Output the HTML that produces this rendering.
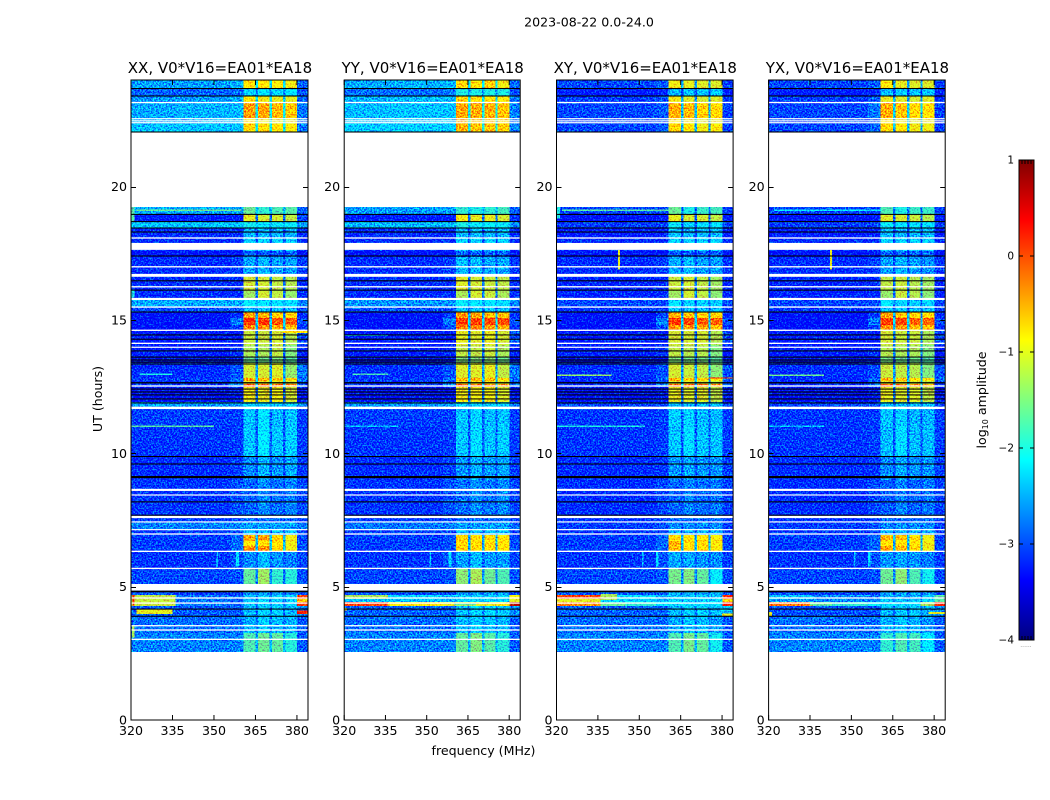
<!DOCTYPE html>
<html lang="en">
<head>
<meta charset="utf-8">
<title>2023-08-22 0.0-24.0</title>
<style>
html,body{margin:0;padding:0;background:#fff;}
svg{display:block;font-family:"DejaVu Sans","Liberation Sans",sans-serif;fill:#000;}
</style>
</head>
<body>
<svg id="figure" xmlns="http://www.w3.org/2000/svg" width="1050" height="800" viewBox="0 0 1050 800">
  <defs>
    <filter id="grain" filterUnits="userSpaceOnUse" x="120" y="70" width="840" height="660" color-interpolation-filters="sRGB">
      <feTurbulence type="fractalNoise" baseFrequency="0.62" numOctaves="2" seed="7" result="t"/>
      <feColorMatrix in="t" type="matrix" values="0 0 0 0 0.5  2.4 0 0 0 -0.7  0 0 0 0 0.5  0 0 0 0 1" result="n"/>
      <feComposite in="SourceGraphic" in2="n" operator="arithmetic" k1="0" k2="1" k3="0.9" k4="-0.45" result="m"/>
      <feComposite in="m" in2="SourceGraphic" operator="in"/>
    </filter>
    <linearGradient id="jetGradient" x1="0" y1="1" x2="0" y2="0"></linearGradient>
  </defs>
  <rect width="1050" height="800" fill="#fff"/>
  <text x="589" y="26.5" font-size="12.6" text-anchor="middle">2023-08-22 0.0-24.0</text>
  <text x="483.5" y="755" font-size="12.6" text-anchor="middle">frequency (MHz)</text>
  <text transform="translate(102,399) rotate(-90)" font-size="12.6" text-anchor="middle">UT (hours)</text>
  <g id="panels"></g>
  <g id="colorbar"></g>
  <text transform="translate(986,400) rotate(-90)" font-size="12.6" text-anchor="middle">log<tspan font-size="8" dy="2">10</tspan><tspan dy="-2"> amplitude</tspan></text>
</svg>
<script>
// ---- categories and tick labels ----
const polarisations = ["XX", "YY", "XY", "YX"];
const baselineLabel = "V0*V16=EA01*EA18";
const freqTicks = [320, 335, 350, 365, 380];
const hourTicks = [0, 5, 10, 15, 20];
const colorTicks = [-4, -3, -2, -1, 0, 1];

// ---- axis ranges ----
const freqRange = [320, 384];
const hourRange = [0, 24];
const colorRange = [-4, 1];

// ---- frequency channels, MHz (background + four receiver bands) ----
const channelStarts = [320, 336, 356, 360.6, 365.1, 366, 370.1, 371, 375, 375.8, 380.1];
const channelEnds   = [336, 356, 360.6, 365.1, 366, 370.1, 371, 375, 375.8, 380.1, 384];

// ---- time blocks, UT hours ----
const rowTop = [24,23.68,23.4,23.14,22.58,22.35,19.24,18.96,18.68,18.45,18.05,17.59,17.36,16.69,16.09,15.8,15.49,15.3,15.07,14.81,14.63,14.06,13.61,13.39,12.83,12.71,12.6,12.49,11.93,11.66,11.03,9.9,9,7.65,7.43,7.16,6.94,6.71,6.52,6.34,5.7,5.1,4.69,4.54,4.43,4.28,3.9,3.27];
const rowBottom = [23.68,23.4,23.14,22.58,22.35,22.05,18.96,18.68,18.45,18.05,17.59,17.36,16.69,16.09,15.8,15.49,15.3,15.07,14.81,14.63,14.06,13.61,13.39,12.83,12.71,12.6,12.49,11.93,11.66,11.03,9.9,9,7.65,7.43,7.16,6.94,6.71,6.52,6.34,5.7,5.1,4.69,4.54,4.43,4.28,3.9,3.27,2.55];

// ---- log10 amplitude per block: [320-336, 336-356, 356-360, band1, band2, band3, band4, 380-384] ----
const valuesXX = [
[-2.6,-2.6,-2.5,-.8,-.85,-.9,-.95,-2.9],[-2.9,-2.9,-2.85,-2.3,-2.2,-2.25,-2.2,-3],[-2.65,-2.6,-2.55,-.85,-.95,-1,-1,-2.9],[-2.55,-2.5,-2.45,-.4,-.45,-.55,-.65,-2.8],
[-2.5,-2.5,-2.4,-.85,-.95,-1,-1,-2.8],[-2.4,-2.4,-2.4,-.7,-.8,-.85,-.9,-2.8],[-2.5,-2.55,-2.6,-1.6,-1.9,-1.75,-1.7,-2.9],[-3.3,-3.3,-3.3,-1,-1.1,-1.1,-1.2,-3.1],
[-2.4,-2.4,-2.4,-2.05,-2.15,-2.1,-2.1,-2.6],[-3.2,-3.2,-3.2,-2.5,-2.5,-2.5,-2.5,-3.2],[-3.2,-3.2,-3.2,-2.3,-2.3,-2.3,-2.3,-3.2],[-3.4,-3.4,-3.4,-2.9,-2.9,-2.9,-2.9,-3.4],
[-3.2,-3.2,-3.1,-2.55,-2.5,-2.6,-2.6,-3.1],[-3.2,-3.2,-3.2,-1.1,-1.1,-1.2,-1.25,-3.2],[-3.2,-3.2,-3.2,-1.35,-1.1,-1.2,-1.4,-3.2],[-2.55,-2.55,-2.55,-2.1,-2.2,-2.2,-2.2,-2.7],
[-3,-3,-3,-2.4,-2.4,-2.4,-2.4,-3],[-3.4,-3.4,-3.2,-.4,-.5,-.7,-.7,-3.2],[-3.4,-3.4,-2.8,.2,.15,0,-.05,-3],[-3.4,-3.4,-3.1,-.3,-.3,-.5,-.6,-3.2],
[-3.3,-3.3,-3.3,-1.15,-1.15,-1.1,-1.25,-3],[-3.3,-3.3,-3.2,-1.3,-1.3,-1.2,-1.5,-3.3],[-3.5,-3.5,-3.4,-1.6,-1.6,-1.5,-1.7,-3.4],[-3.2,-3.2,-3,-1.1,-1.1,-1.05,-1.4,-2.8],
[-3.1,-3.1,-2.8,-.4,-.45,-.55,-.7,-2.8],[-3.2,-3.2,-2.9,-1,-1,-1,-1.1,-3],[-3.1,-3.1,-2.7,0,-.1,-.2,-.4,-2.8],[-3.4,-3.4,-3.3,-.95,-1,-.95,-1.1,-3.3],
[-2.6,-2.6,-2.6,-2.3,-2.3,-2.3,-2.3,-2.7],[-3.1,-3.1,-3.1,-2.4,-2.2,-2.45,-2.4,-3.1],[-3.15,-3.15,-3.1,-2.4,-2.15,-2.4,-2.35,-3.1],[-3.2,-3.2,-3.1,-2.7,-2.5,-2.65,-2.55,-3.1],
[-3.15,-3.15,-3,-2.9,-2.7,-2.85,-2.75,-3.05],[-3.1,-3.1,-3.05,-2.85,-2.85,-2.85,-2.85,-3.1],[-2.75,-2.75,-2.7,-2.6,-2.6,-2.6,-2.6,-2.8],[-3.1,-3.1,-3.05,-2.4,-2.4,-2.4,-2.4,-3.1],
[-3.1,-3.1,-2.9,-.45,-.45,-.7,-.95,-3.1],[-3.1,-3.1,-2.85,-.9,-.85,-.85,-.95,-3],[-3.1,-3.1,-2.85,-.3,-.35,-.7,-.95,-3],[-3.15,-3.15,-3,-2.7,-2.45,-2.65,-2.75,-3.05],
[-3.05,-3.05,-3,-1.65,-1.35,-1.9,-1.95,-3],[-3,-3.1,-3.1,-2.7,-2.6,-2.6,-2.7,-3],[-1.2,-2.8,-2.9,-2.4,-2.3,-2.3,-2.3,.1],[-1.15,-2.8,-2.9,-2.4,-2.3,-2.3,-2.3,-.6],
[-1.15,-2.8,-2.9,-2.4,-2.3,-2.3,-2.3,.15],[-2.95,-2.95,-2.95,-2.45,-2.3,-2.3,-2.45,-2.7],[-2.85,-2.85,-2.85,-2.5,-2.35,-2.45,-2.5,-2.95],[-2.75,-2.75,-2.75,-1.75,-1.6,-1.65,-1.95,-2.95]
];
const valuesYY = [
[-2.55,-2.5,-2.45,-.75,-.8,-.7,-.95,-2.85],[-2.85,-2.85,-2.8,-2,-2,-2,-2,-3],[-2.5,-2.45,-2.45,-.7,-.8,-.8,-.9,-2.8],[-2.45,-2.4,-2.4,-.45,-.5,-.5,-.6,-2.75],
[-2.4,-2.4,-2.35,-.55,-.65,-.65,-.75,-2.75],[-2.35,-2.35,-2.35,-.5,-.6,-.6,-.7,-2.75],[-2.6,-2.6,-2.6,-1.9,-2,-1.9,-1.8,-2.9],[-3.3,-3.3,-3.3,-.95,-1,-1,-1.1,-3.2],
[-2.45,-2.45,-2.45,-2,-2.1,-2.1,-2.1,-2.7],[-3.2,-3.2,-3.2,-2.45,-2.45,-2.45,-2.45,-3.2],[-3.2,-3.2,-3.2,-2.3,-2.3,-2.3,-2.3,-3.2],[-3.4,-3.4,-3.4,-2.9,-2.9,-2.9,-2.9,-3.4],
[-3.2,-3.2,-3.1,-2.45,-2.45,-2.55,-2.55,-3.1],[-3.2,-3.2,-3.2,-1.05,-1.1,-1.15,-1.2,-3.2],[-3.2,-3.2,-3.2,-1.3,-1.1,-1.15,-1.3,-3.2],[-2.65,-2.65,-2.65,-2.1,-2.2,-2.2,-2.2,-2.75],
[-3,-3,-3,-2.4,-2.4,-2.4,-2.4,-3],[-3.4,-3.4,-3.1,-.35,-.45,-.55,-.6,-3.2],[-3.4,-3.4,-2.8,.15,.1,.05,0,-3],[-3.4,-3.4,-3.05,-.25,-.25,-.4,-.45,-3.2],
[-3.3,-3.3,-3.3,-1,-1.05,-1,-1.1,-3],[-3.3,-3.3,-3.2,-1.2,-1.2,-1.15,-1.3,-3.3],[-3.5,-3.5,-3.4,-1.5,-1.5,-1.45,-1.6,-3.4],[-3.2,-3.2,-3,-1.05,-1.05,-1,-1.2,-2.8],
[-3.1,-3.1,-2.8,-.5,-.5,-.55,-.7,-2.8],[-3.2,-3.2,-2.9,-.95,-.95,-.95,-1.05,-3],[-3.1,-3.1,-2.7,-.1,-.15,-.2,-.3,-2.8],[-3.4,-3.4,-3.3,-.95,-.95,-.95,-1.05,-3.3],
[-2.65,-2.65,-2.65,-2.3,-2.3,-2.3,-2.3,-2.75],[-3.1,-3.1,-3.1,-2.4,-2.3,-2.45,-2.4,-3.1],[-3.15,-3.15,-3.1,-2.4,-2.25,-2.4,-2.35,-3.1],[-3.2,-3.2,-3.1,-2.65,-2.5,-2.6,-2.55,-3.1],
[-3.15,-3.15,-3,-2.85,-2.7,-2.8,-2.7,-3.05],[-3.1,-3.1,-3.05,-2.85,-2.85,-2.85,-2.85,-3.1],[-2.8,-2.8,-2.75,-2.6,-2.6,-2.6,-2.6,-2.85],[-3.1,-3.1,-3.05,-2.4,-2.4,-2.4,-2.4,-3.1],
[-3.1,-3.1,-3,-.7,-.75,-.75,-.85,-3.1],[-3.1,-3.1,-3,-.75,-.8,-.8,-.85,-3],[-3.1,-3.1,-3,-.7,-.75,-.75,-.85,-3],[-3.15,-3.15,-3,-2.6,-2.45,-2.6,-2.6,-3.05],
[-3.05,-3.05,-3,-1.45,-1.3,-1.6,-1.75,-3],[-3,-3,-3,-2.6,-2.6,-2.6,-2.65,-3],[-1.3,-2.3,-2.5,-2.3,-2.3,-2.3,-2.2,-.9],[-2.4,-2.4,-2.5,-2.3,-2.3,-2.3,-2.3,-1],
[.1,-.9,-1,-1,-1,-1,-.9,.7],[-2.9,-2.9,-2.9,-2.4,-2.25,-2.25,-2.35,-2.7],[-2.85,-2.85,-2.85,-2.45,-2.35,-2.4,-2.45,-2.95],[-2.75,-2.75,-2.75,-1.65,-1.5,-1.7,-1.95,-2.95]
];
const valuesXY = [
[-3.05,-3.05,-2.95,-.95,-1,-1.05,-1.05,-3.1],[-3.3,-3.3,-3.25,-2.5,-2.35,-2.4,-2.35,-3.3],[-3.1,-3.1,-3,-.95,-1.05,-1.1,-1.05,-3.15],[-3.05,-3.05,-2.95,-.5,-.55,-.7,-.75,-3.1],
[-3.05,-3.05,-2.95,-.85,-.95,-1.05,-1,-3.1],[-3.05,-3.05,-2.95,-.75,-.85,-.95,-.9,-3.1],[-3.05,-3.05,-3.05,-1.6,-2,-1.85,-1.8,-3.1],[-3.4,-3.4,-3.35,-1,-1.1,-1.1,-1.2,-3.3],
[-3.1,-3.1,-3.1,-2.1,-2.25,-2.2,-2.2,-3.1],[-3.3,-3.3,-3.25,-2.4,-2.5,-2.45,-2.45,-3.3],[-3.2,-3.2,-3.2,-2.3,-2.3,-2.3,-2.3,-3.2],[-3.4,-3.4,-3.4,-2.9,-2.9,-2.9,-2.9,-3.4],
[-3.2,-3.2,-3.1,-2.55,-2.45,-2.6,-2.6,-3.15],[-3.25,-3.25,-3.2,-1.15,-1.1,-1.2,-1.35,-3.25],[-3.25,-3.25,-3.2,-1.35,-1.1,-1.2,-1.45,-3.25],[-3.05,-3.05,-3.05,-2.2,-2.3,-2.3,-2.3,-3.05],
[-3.15,-3.15,-3.1,-2.4,-2.4,-2.4,-2.4,-3.15],[-3.4,-3.4,-3.1,-.5,-.6,-.7,-.75,-3.2],[-3.4,-3.4,-2.75,.15,.1,-.05,-.1,-3],[-3.4,-3.4,-3,-.35,-.4,-.45,-.6,-3.2],
[-3.3,-3.3,-3.3,-1.1,-1.1,-1.1,-1.25,-3.05],[-3.3,-3.3,-3.2,-1.2,-1.25,-1.25,-1.5,-3.3],[-3.5,-3.5,-3.4,-1.5,-1.55,-1.55,-1.7,-3.4],[-3.2,-3.2,-3,-1.1,-1.15,-1.2,-1.45,-3],
[-3.2,-3.2,-2.9,-.45,-.6,-.7,-.9,-2.9],[-3.25,-3.25,-2.9,-1.05,-1.05,-1.1,-1.2,-3],[-3.2,-3.2,-2.7,-.15,-.2,-.3,-.4,-2.7],[-3.4,-3.4,-3.3,-1,-1.05,-1.05,-1.2,-3.3],
[-3.05,-3.05,-3.05,-2.4,-2.4,-2.4,-2.4,-3.05],[-3.15,-3.15,-3.1,-2.35,-2.3,-2.45,-2.45,-3.1],[-3.15,-3.15,-3.1,-2.4,-2.25,-2.4,-2.4,-3.1],[-3.2,-3.2,-3.15,-2.65,-2.55,-2.65,-2.65,-3.1],
[-3.2,-3.2,-3.05,-2.9,-2.75,-2.85,-2.8,-3.1],[-3.15,-3.15,-3.05,-2.85,-2.85,-2.85,-2.85,-3.15],[-3.1,-3.1,-3,-2.7,-2.7,-2.7,-2.7,-3.1],[-3.15,-3.15,-3.05,-2.5,-2.5,-2.5,-2.5,-3.15],
[-3.1,-3.1,-2.9,-.8,-.8,-.8,-.9,-3.1],[-3.1,-3.1,-2.9,-.5,-.8,-.75,-.9,-3.05],[-3.1,-3.1,-2.9,-.6,-.75,-.75,-.9,-3.05],[-3.15,-3.15,-3,-2.55,-2.55,-2.65,-2.7,-3.1],
[-3.05,-3.05,-3,-1.55,-1.5,-1.65,-2.1,-3.05],[-2.95,-2.95,-2.95,-2.5,-2.5,-2.5,-2.5,-2.95],[.05,-2.2,-2.5,-2.4,-2.4,-2.4,-2.4,.3],[-1,-2.3,-2.5,-2.3,-2.3,-2.3,-2.3,-.7],
[-.3,-1.9,-2.2,-2.25,-2.25,-2.25,-2.2,.35],[-2.9,-2.9,-2.9,-2.45,-2.3,-2.3,-2.45,-2.4],[-2.85,-2.85,-2.85,-2.55,-2.4,-2.45,-2.6,-2.95],[-2.75,-2.75,-2.75,-1.75,-1.55,-1.65,-2.05,-2.95]
];
const valuesYX = [
[-3.05,-3.05,-2.95,-.9,-1,-1.05,-1.05,-3.1],[-3.3,-3.3,-3.25,-2.45,-2.35,-2.4,-2.35,-3.3],[-3.1,-3.1,-2.95,-1,-1.05,-1.1,-1.05,-3.15],[-3.05,-3.05,-2.8,-.5,-.6,-.75,-.8,-3.1],
[-3.05,-3.05,-2.9,-.85,-.95,-1.05,-1,-3.1],[-3.05,-3.05,-2.9,-.75,-.85,-.95,-.95,-3.1],[-3.05,-3.05,-3.05,-1.75,-2,-1.85,-1.85,-3.1],[-3.4,-3.4,-3.35,-1.05,-1.1,-1.15,-1.25,-3.3],
[-3.1,-3.1,-3.1,-2.1,-2.25,-2.2,-2.2,-3.1],[-3.3,-3.3,-3.25,-2.45,-2.5,-2.45,-2.45,-3.3],[-3.2,-3.2,-3.2,-2.3,-2.3,-2.3,-2.3,-3.2],[-3.4,-3.4,-3.4,-2.9,-2.9,-2.9,-2.9,-3.4],
[-3.2,-3.2,-3.1,-2.6,-2.5,-2.6,-2.65,-3.15],[-3.25,-3.25,-3.2,-1.2,-1.15,-1.25,-1.35,-3.25],[-3.25,-3.25,-3.2,-1.4,-1.15,-1.25,-1.45,-3.25],[-3.05,-3.05,-3.05,-2.2,-2.3,-2.3,-2.3,-3.05],
[-3.15,-3.15,-3.1,-2.4,-2.4,-2.4,-2.4,-3.15],[-3.4,-3.4,-3.15,-.45,-.6,-.75,-.75,-3.2],[-3.4,-3.4,-2.8,.1,.05,-.1,-.1,-3],[-3.4,-3.4,-3.05,-.35,-.4,-.55,-.6,-3.2],
[-3.3,-3.3,-3.3,-1.1,-1.15,-1.15,-1.3,-3.05],[-3.3,-3.3,-3.2,-1.25,-1.3,-1.3,-1.5,-3.3],[-3.5,-3.5,-3.4,-1.55,-1.6,-1.6,-1.75,-3.4],[-3.2,-3.2,-3.05,-1.15,-1.2,-1.25,-1.5,-3],
[-3.2,-3.2,-2.9,-.5,-.6,-.75,-.9,-2.9],[-3.25,-3.25,-2.95,-1.05,-1.05,-1.1,-1.2,-3],[-3.2,-3.2,-2.75,0,-.1,-.3,-.45,-2.9],[-3.4,-3.4,-3.3,-1,-1.05,-1.05,-1.2,-3.3],
[-3.05,-3.05,-3.05,-2.4,-2.4,-2.4,-2.4,-3.05],[-3.15,-3.15,-3.1,-2.4,-2.35,-2.5,-2.5,-3.1],[-3.15,-3.15,-3.1,-2.45,-2.25,-2.45,-2.45,-3.1],[-3.2,-3.2,-3.15,-2.7,-2.55,-2.65,-2.65,-3.1],
[-3.2,-3.2,-3.05,-2.95,-2.75,-2.9,-2.8,-3.1],[-3.15,-3.15,-3.05,-2.85,-2.85,-2.85,-2.85,-3.15],[-3.1,-3.1,-3,-2.7,-2.7,-2.7,-2.7,-3.1],[-3.15,-3.15,-3.05,-2.5,-2.5,-2.5,-2.5,-3.15],
[-3.1,-3.1,-2.9,-.55,-.6,-.8,-.95,-3.1],[-3.1,-3.1,-2.9,-.85,-.85,-.85,-.95,-3.05],[-3.1,-3.1,-2.9,-.45,-.5,-.75,-.95,-3.05],[-3.15,-3.15,-3,-2.65,-2.55,-2.65,-2.75,-3.1],
[-3.05,-3.05,-3,-1.6,-1.45,-1.75,-2.05,-3.05],[-3.05,-3.05,-3.05,-2.6,-2.6,-2.6,-2.6,-3.05],[-2.4,-2.7,-2.8,-2.5,-2.5,-2.5,-2.4,-1.7],[-2.6,-2.7,-2.7,-2.4,-2.4,-2.4,-2.3,-1.7],
[-.2,-1.9,-2.1,-2.3,-2.3,-2.2,-1.7,.25],[-3,-3,-3,-2.45,-2.35,-2.35,-2.5,-2.7],[-2.85,-2.85,-2.85,-2.5,-2.4,-2.5,-2.65,-2.95],[-2.75,-2.75,-2.75,-1.9,-1.75,-1.8,-2.15,-2.95]
];
const seriesValues = [valuesXX, valuesYY, valuesXY, valuesYX];

// ---- narrow features: [top hour, bottom hour, start MHz, end MHz, log10 amplitude] ----
const featuresXX = [[19.14,19.09,322,360,-1.6],[19.24,18.7,320,321.2,-1.7],[16.1,15.85,320,321.2,-2],[14.58,14.52,375,384,-.8],[13,12.94,323,335,-2],[11.05,10.99,320,350,-1.7],[6.3,5.75,351,351.5,-2.4],[6.3,5.75,358,359,-2.2],[4.15,3.98,322,335,-1],[4.1,3.98,380,384,.4],[4.69,4.3,320.6,321.2,.3],[3.55,3.1,320.4,321.2,-1.3]];
const featuresYY = [[19.05,19,320,321,-1.8],[14.45,14.4,320,336,-2.2],[13,12.94,323,336,-1.8],[11.05,10.99,320,340,-2.4],[6.3,5.75,351,351.5,-2.4],[6.3,5.75,358,359,-2.2],[4.2,4.1,320,321,-1],[4.4,4.3,360,368,-1.6]];
const featuresXY = [[19.14,19.09,322,361,-1.7],[19.24,18.8,320,321.2,-2],[17.62,16.9,342.3,343,-1],[14.45,14.41,322,332,-1],[12.95,12.9,320,340,-1.4],[12.85,12.8,375,384,.2],[11.05,10.99,320,352,-2],[6.3,5.75,351,351.5,-2.4],[6.3,5.75,356,357,-2.2],[4.72,4.5,336,342,-1.3],[4.36,4.28,336,345,-1.6],[4,3.9,380,384,-1]];
const featuresYX = [[19.14,19.09,322,361,-2.1],[17.62,16.9,342.3,343,-1],[14.45,14.41,322,332,-1.6],[12.95,12.9,320,340,-1.6],[11.05,10.99,320,340,-2.4],[6.3,5.75,351,351.5,-2.4],[6.3,5.75,356,357,-2.2],[4.42,4.3,335,343,-1.6],[4.42,4.28,375,380,-1.3],[4.05,3.9,320,321.2,-1],[4.05,3.98,378,384,-1]];
const seriesFeatures = [featuresXX, featuresYY, featuresXY, featuresYX];

// ---- flagged integrations (no data = white, zero = black), UT hours ----
const whiteTop = [23.18,22.57,22.49,22.42,18.1,17.89,17.02,16.73,16.27,15.83,15.51,14.64,14.15,14,12.55,11.75,8.67,8.46,7.66,7.45,7.16,7,6.35,5.71,5.1,4.6,4.41,3.56,3.4,3.05];
const whiteBottom = [23.13,22.53,22.45,22.38,18.05,17.63,16.97,16.62,16.22,15.75,15.46,14.59,14.1,13.96,12.5,11.66,8.59,8.42,7.57,7.41,7.12,6.95,6.3,5.66,4.85,4.55,4.36,3.51,3.35,3];
const blackTop = [23.7,23.42,22.07,18.98,18.71,18.47,18.32,17.42,16.49,16.14,15.32,14.46,14.3,13.86,13.63,13.52,13.44,13.37,12.67,12.43,12.32,12.21,12.06,11.91,9.9,9.62,9.15,8.2,7.7,4.85,4.18,3.91];
const blackBottom = [23.66,23.38,22.03,18.94,18.67,18.43,18.28,17.38,16.45,16.1,15.28,14.42,14.26,13.82,13.59,13.48,13.4,13.33,12.62,12.39,12.28,12.17,12.02,11.87,9.86,9.58,9.07,8.16,7.66,4.79,4.14,3.87];

// ---- layout ----
const panelLeft = [131, 344.2, 556.5, 768.6];
const panelWidth = [177, 176, 176.6, 176.6];
const plotTop = 80, plotBottom = 720;
const barLeft = 1019, barWidth = 15, barTop = 160, barBottom = 640;

const NS = "http://www.w3.org/2000/svg";
function add(parent, tag, attrs, text) {
  const el = document.createElementNS(NS, tag);
  for (const k in attrs) el.setAttribute(k, attrs[k]);
  if (text !== undefined) el.textContent = text;
  parent.appendChild(el);
  return el;
}
function clip01(v) { return Math.max(0, Math.min(1, v)); }
function jet(t) {
  const r = clip01(1.5 - Math.abs(4 * t - 3));
  const g = clip01(1.5 - Math.abs(4 * t - 2));
  const b = clip01(1.5 - Math.abs(4 * t - 1));
  return "rgb(" + Math.round(r * 255) + "," + Math.round(g * 255) + "," + Math.round(b * 255) + ")";
}
function colorOf(v) { return jet(clip01((v - colorRange[0]) / (colorRange[1] - colorRange[0]))); }
function yOf(h) { return plotBottom - (h - hourRange[0]) / (hourRange[1] - hourRange[0]) * (plotBottom - plotTop); }
function xOf(p, f) { return panelLeft[p] + (f - freqRange[0]) / (freqRange[1] - freqRange[0]) * panelWidth[p]; }

// per-row value for each frequency channel; the gaps between bands sit just above the background level
function channelValues(row) {
  const gap = (b) => row[2] + (b - row[2]) * 0.2;
  return [row[0], row[1], row[2], row[3], gap(row[3]), row[4], gap(row[4]), row[5], gap(row[5]), row[6], row[7]];
}

const panelsGroup = document.getElementById("panels");
polarisations.forEach(function (pol, p) {
  const panel = add(panelsGroup, "g", {});
  
  

  const heat = add(panel, "g", { filter: "url(#grain)", "shape-rendering": "crispEdges" });
  
  

  seriesValues[p].forEach(function (row, r) {
    const vals = channelValues(row);
    vals.forEach(function (v, c) {
      const x0 = xOf(p, channelStarts[c]), x1 = xOf(p, channelEnds[c]);
      const y0 = yOf(rowTop[r]), y1 = yOf(rowBottom[r]);
      const cell = add(heat, "rect", { x: x0, y: y0, width: x1 - x0, height: y1 - y0, fill: colorOf(v) });
      
      
    });
  });

  seriesFeatures[p].forEach(function (f) {
    const x0 = xOf(p, f[2]), x1 = xOf(p, f[3]);
    const y0 = yOf(f[0]), y1 = yOf(f[1]);
    const cell = add(heat, "rect", { x: x0, y: y0, width: x1 - x0, height: Math.max(y1 - y0, 1), fill: colorOf(f[4]) });
    
    
  });

  const x0 = xOf(p, freqRange[0]);
  const w = panelWidth[p];
  whiteTop.forEach(function (top, i) {
    const y0 = yOf(top), y1 = yOf(whiteBottom[i]);
    const line = add(panel, "rect", { x: x0, y: y0, width: w, height: Math.max(y1 - y0, 1.2), fill: "#fff" });
    
    
  });
  blackTop.forEach(function (top, i) {
    const y0 = yOf(top), y1 = yOf(blackBottom[i]);
    const line = add(panel, "rect", { x: x0, y: y0, width: w, height: Math.max(y1 - y0, 1), fill: "#000" });
    
    
  });

  const frame = add(panel, "rect", { x: x0, y: plotTop, width: w, height: plotBottom - plotTop, fill: "none", stroke: "#000", "stroke-width": 1 });
  
  

  freqTicks.forEach(function (f) {
    const x = xOf(p, f);
    const tb = add(panel, "line", { x1: x, x2: x, y1: plotBottom, y2: plotBottom - 5, stroke: "#000" });
    
    
    const tt = add(panel, "line", { x1: x, x2: x, y1: plotTop, y2: plotTop + 5, stroke: "#000" });
    
    
    const lab = add(panel, "text", { x: x, y: 735, "font-size": 12.6, "text-anchor": "middle" }, String(f));
    
    
  });
  hourTicks.forEach(function (h) {
    const y = Math.round(yOf(h)) + 0.5 - (h === 0 ? 0.5 : 0);
    const tl = add(panel, "line", { x1: x0, x2: x0 + 5, y1: y, y2: y, stroke: "#000" });
    
    
    const tr = add(panel, "line", { x1: x0 + w, x2: x0 + w - 5, y1: y, y2: y, stroke: "#000" });
    
    
    const lab = add(panel, "text", { x: x0 - 4, y: yOf(h) + 4.5, "font-size": 12.6, "text-anchor": "end" }, String(h));
    
    
  });

  const title = add(panel, "text", { x: x0 + w / 2 + 0.5, y: 73, "font-size": 15, "text-anchor": "middle" }, pol + ", " + baselineLabel);
  
  
});

// ---- colorbar ----
const grad = document.getElementById("jetGradient");
[0, 0.11, 0.125, 0.35, 0.375, 0.625, 0.64, 0.875, 0.89, 1].forEach(function (t) {
  add(grad, "stop", { offset: t, "stop-color": jet(t) });
});
const bar = document.getElementById("colorbar");
const barRect = add(bar, "rect", { x: barLeft, y: barTop, width: barWidth, height: barBottom - barTop, fill: "url(#jetGradient)", stroke: "#000", "stroke-width": 1 });


function yBar(v) { return barBottom - (v - colorRange[0]) / (colorRange[1] - colorRange[0]) * (barBottom - barTop); }
colorTicks.forEach(function (v) {
  const y = yBar(v);
  const tl = add(bar, "line", { x1: barLeft, x2: barLeft + 4, y1: y, y2: y, stroke: "#000" });
  
  
  const tr = add(bar, "line", { x1: barLeft + barWidth, x2: barLeft + barWidth - 4, y1: y, y2: y, stroke: "#000" });
  
  
  const lab = add(bar, "text", { x: barLeft - 5, y: y + 3.5, "font-size": 10.5, "text-anchor": "end" }, String(v).replace("-", "\u2212"));
  
  
});
[3, 6, 9, 12].forEach(function (dx) {
  const a = add(bar, "line", { x1: barLeft + dx, x2: barLeft + dx, y1: barTop, y2: barTop + 4, stroke: "#000" });
  
  
  const b = add(bar, "line", { x1: barLeft + dx, x2: barLeft + dx, y1: barBottom, y2: barBottom - 4, stroke: "#000" });
  
  
});
const dots = add(bar, "text", { x: barLeft + 7, y: 647, "font-size": 6, "text-anchor": "middle", fill: "#888" }, "......");


</script>
</body>
</html>
